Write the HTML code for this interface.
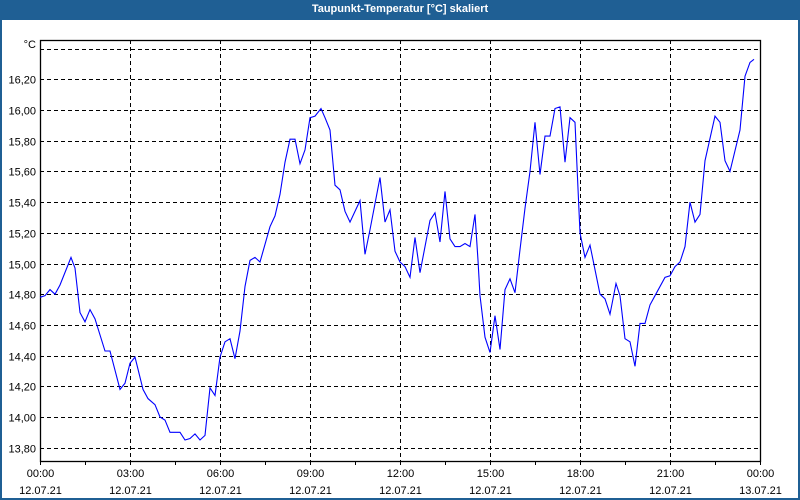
<!DOCTYPE html>
<html><head><meta charset="utf-8"><style>
html,body{margin:0;padding:0;background:#fff}
#frame{position:relative;width:800px;height:500px;box-sizing:border-box;border:2px solid #1f5f94;border-top:none;background:#fff;overflow:hidden}
#title{position:absolute;left:-2px;top:0;width:800px;height:20px;background:#1f5f94;color:#fff;font:bold 11px "Liberation Sans",sans-serif;text-align:center;line-height:18px}
svg{position:absolute;left:-2px;top:0}
text{font-family:"Liberation Sans",sans-serif;font-size:11px;fill:#000}
</style></head><body>
<div id="frame">
<div id="title">Taupunkt-Temperatur [°C] skaliert</div>
<svg id="chart" width="800" height="500"></svg>
</div>
<script>
const yTicks = [13.8,14.0,14.2,14.4,14.6,14.8,15.0,15.2,15.4,15.6,15.8,16.0,16.2,16.4];
const xTickHours = [0,3,6,9,12,15,18,21,24];
const xTimeLabels = ["00:00","03:00","06:00","09:00","12:00","15:00","18:00","21:00","00:00"];
const xDateLabels = ["12.07.21","12.07.21","12.07.21","12.07.21","12.07.21","12.07.21","12.07.21","12.07.21","13.07.21"];
const minutes = [0,10,20,30,40,62,70,80,90,100,110,130,140,160,170,180,190,206,216,230,240,250,260,280,290,300,310,320,330,340,350,360,370,380,390,400,410,420,430,440,460,470,480,490,500,510,520,530,540,550,562,570,580,590,600,610,620,640,650,660,680,690,700,710,720,730,740,750,760,780,790,800,810,820,830,840,850,860,870,876,880,890,900,910,920,930,940,950,960,970,980,990,1000,1010,1020,1030,1040,1050,1060,1070,1080,1090,1100,1120,1130,1140,1152,1160,1170,1180,1190,1200,1210,1220,1230,1250,1260,1270,1280,1290,1300,1310,1320,1330,1350,1360,1370,1380,1400,1410,1420,1428];
const values = [14.78,14.79,14.83,14.80,14.86,15.04,14.97,14.68,14.62,14.70,14.64,14.43,14.43,14.18,14.22,14.35,14.39,14.18,14.12,14.08,14.00,13.98,13.90,13.90,13.85,13.86,13.89,13.85,13.88,14.19,14.14,14.39,14.49,14.51,14.38,14.56,14.85,15.02,15.04,15.01,15.24,15.31,15.45,15.66,15.81,15.81,15.65,15.74,15.95,15.96,16.01,15.95,15.87,15.51,15.48,15.34,15.27,15.41,15.06,15.22,15.56,15.27,15.35,15.08,15.01,14.98,14.91,15.17,14.94,15.28,15.33,15.14,15.47,15.16,15.11,15.11,15.13,15.11,15.32,15.02,14.79,14.52,14.42,14.66,14.44,14.83,14.90,14.81,15.09,15.36,15.60,15.92,15.58,15.83,15.83,16.01,16.02,15.66,15.95,15.92,15.20,15.04,15.12,14.80,14.77,14.67,14.87,14.79,14.51,14.49,14.33,14.61,14.61,14.73,14.79,14.91,14.92,14.98,15.01,15.11,15.40,15.27,15.32,15.67,15.96,15.92,15.67,15.60,15.87,16.22,16.31,16.33];

const svg = document.getElementById('chart');
const NS = 'http://www.w3.org/2000/svg';
const L=40,R=760,T=40,B=461;
const xS = m => L + (m/1440)*(R-L);
const yS = v => 110 + (16-v)/0.2*30.7;
function mk(tag, attrs){const e=document.createElementNS(NS,tag);for(const k in attrs)e.setAttribute(k,attrs[k]);svg.appendChild(e);return e;}

yTicks.forEach(v=>{
  const y=Math.round(yS(v))+0.5;
  const g=mk('line',{x1:L,x2:R,y1:y,y2:y,stroke:'#000','stroke-width':1,'stroke-dasharray':'4,3'});
  
  
  if(v<16.3){
    const t=mk('text',{x:36,y:y+4,'text-anchor':'end'});
    t.textContent=v.toFixed(2).replace('.',',');
    
    
  }
});
const unit=mk('text',{x:36,y:48,'text-anchor':'end'});
unit.textContent='°C';



xTickHours.forEach((h,i)=>{
  const x=Math.round(xS(h*60))+0.5;
  if(h>0&&h<24){
    const g=mk('line',{x1:x,x2:x,y1:T,y2:B,stroke:'#000','stroke-width':1,'stroke-dasharray':'4,3'});
    
    
  }
  const t1=mk('text',{x:x,y:477,'text-anchor':'middle'});
  t1.textContent=xTimeLabels[i];
  
  
  const t2=mk('text',{x:x,y:494,'text-anchor':'middle'});
  t2.textContent=xDateLabels[i];
  
  
});
for(let h=0;h<=24;h+=1.5){
  const x=Math.round(xS(h*60))+0.5;
  const tk=mk('line',{x1:x,x2:x,y1:B,y2:B+4,stroke:'#000','stroke-width':1});
  
  
}
const box=mk('rect',{x:L+0.5,y:T+0.5,width:R-L,height:B-T,fill:'none',stroke:'#000','stroke-width':1.3});



const pts=minutes.map((m,i)=>xS(m).toFixed(1)+','+yS(values[i]).toFixed(1)).join(' ');
const line=mk('polyline',{points:pts,fill:'none',stroke:'#0000ff','stroke-width':1.1});


</script>
</body></html>
